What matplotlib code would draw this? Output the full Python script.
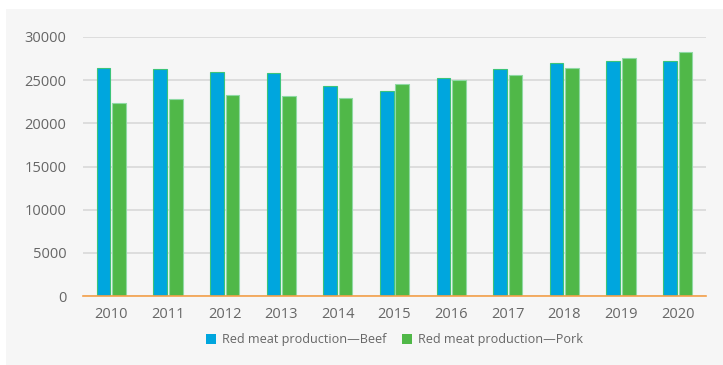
import matplotlib
matplotlib.use("Agg")
import matplotlib.pyplot as plt
from matplotlib.patches import Rectangle
import numpy as np

years = ["2010", "2011", "2012", "2013", "2014", "2015", "2016", "2017", "2018", "2019", "2020"]
beef = [26400, 26300, 26000, 25800, 24300, 23800, 25300, 26300, 27000, 27200, 27200]
pork = [22400, 22800, 23300, 23200, 22900, 24600, 25000, 25600, 26400, 27600, 28300]
series_names = ["Red meat production\u2014Beef", "Red meat production\u2014Pork"]
y_ticks = [0, 5000, 10000, 15000, 20000, 25000, 30000]

W, H, DPI = 723, 365, 100
fig = plt.figure(figsize=(W / DPI, H / DPI), dpi=DPI, facecolor="white")
plt.rcParams["font.family"] = ["Open Sans", "DejaVu Sans"]

# light panel behind the chart
panel = Rectangle((6 / W, 0), 1 - 6 / W, 1 - 9 / H, transform=fig.transFigure,
                  facecolor="#f6f6f6", edgecolor="none", zorder=-10)
fig.add_artist(panel)

left, right, top, bottom = 83, 706, 37, 296
ax = fig.add_axes([left / W, 1 - bottom / H, (right - left) / W, (bottom - top) / H])
ax.set_zorder(5)
ax.set_facecolor("none")

x = np.arange(len(years))
bw = 0.24
off = 0.137
ax.bar(x - off, beef, width=bw, color="#00a6de", edgecolor="#3cc47a", linewidth=0.8,
       label=series_names[0], zorder=3)
ax.bar(x + off, pork, width=bw, color="#50b848", edgecolor="#8fd9a4", linewidth=0.8,
       label=series_names[1], zorder=3)

ax.set_xlim(-0.5, len(years) - 0.5)
ax.set_ylim(0, 30000)
ax.set_yticks(y_ticks)
ax.set_yticklabels([str(v) for v in y_ticks])
ax.set_xticks(x)
ax.set_xticklabels(years)
ax.grid(axis="y", color="#d9d9d9", linewidth=1.2, zorder=1)
for s in ["top", "right", "left"]:
    ax.spines[s].set_visible(False)
ax.spines["bottom"].set_color("#f5a04a")
ax.spines["bottom"].set_linewidth(1.2)
ax.spines["bottom"].set_zorder(4)
ax.tick_params(axis="both", length=0, colors="#666666", labelsize=10.5)
ax.tick_params(axis="y", pad=12)
ax.tick_params(axis="x", pad=8)

leg = ax.legend(loc="upper center", bbox_to_anchor=(0.5, -0.1), ncol=2, frameon=False,
                fontsize=9.1, handlelength=0.8, handleheight=0.8, handletextpad=0.5,
                columnspacing=1.2, labelcolor="#666666")
for h in leg.legend_handles:
    h.set_edgecolor("none")

fig.savefig("out.png", dpi=DPI, facecolor="white")
